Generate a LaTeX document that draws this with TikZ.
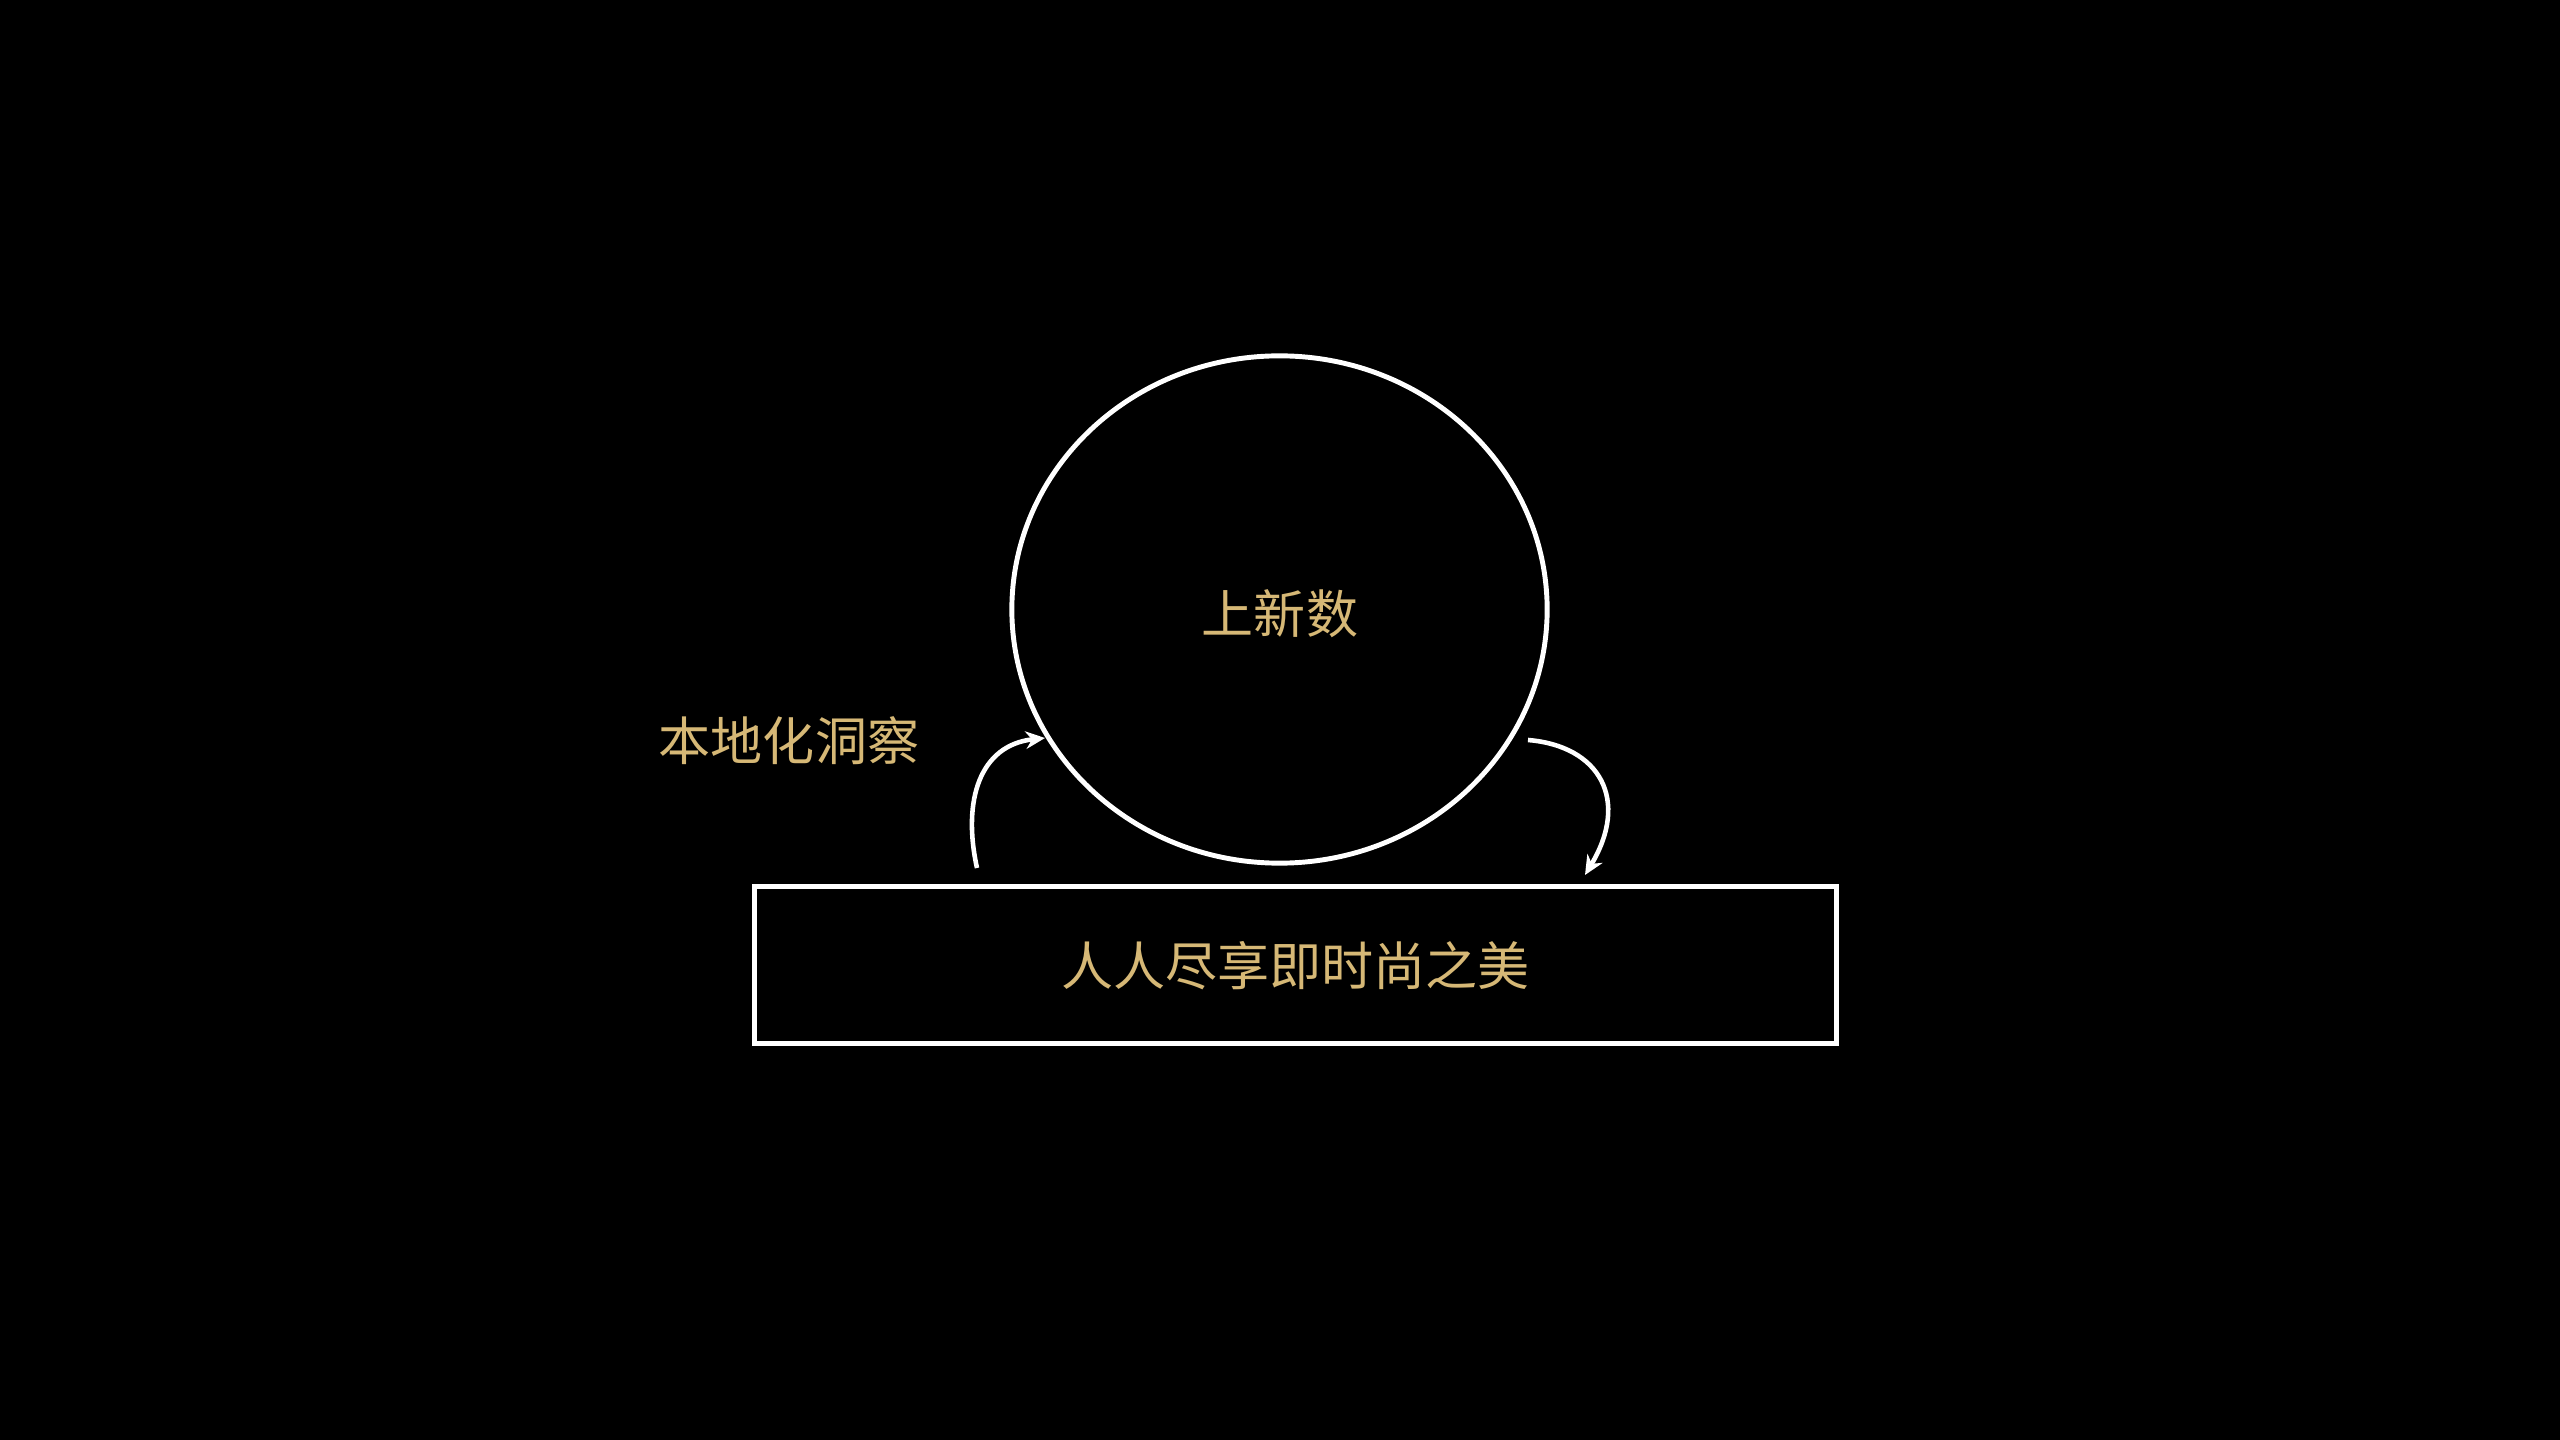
\documentclass[tikz,border=0pt]{standalone}
\usepackage{fontspec}
\newfontfamily\cjk{Noto Sans CJK SC}
\usetikzlibrary{shapes.geometric,arrows.meta}
\definecolor{gold}{RGB}{214,184,118}
\tikzset{
  label text/.style={text=gold, font=\cjk\fontsize{14.8pt}{16pt}\selectfont, inner sep=0pt},
  bubble/.style={ellipse, draw=white, line width=1.4pt, minimum width=5.35cm, minimum height=5.07cm, inner sep=0pt},
  basebox/.style={rectangle, draw=white, line width=1.4pt, minimum width=10.81cm, minimum height=1.56cm, inner sep=0pt},
  loop arrow/.style={draw=white, line width=1.3pt, -{Stealth[length=5.5pt,width=5pt]}}
}
\begin{document}
\begin{tikzpicture}[x=0.01cm, y=-0.01cm]
  \fill[black] (0,0) rectangle (2560,1440);
  \useasboundingbox (0,0) rectangle (2560,1440);
  \node[bubble] (circ) at (1279.5,609.5) {};
  \node[label text] (circtext) at (1280,614) {上新数};
  \node[basebox] (box) at (1295.5,965) {};
  \node[label text] (boxtext) at (1295.5,966) {人人尽享即时尚之美};
  \node[label text] (insight) at (789,741) {本地化洞察};
  \coordinate (lstart) at (977,868);
  \coordinate (lend) at (1045,738);
  \coordinate (rstart) at (1528,740);
  \coordinate (rend) at (1585,875);
  \draw[loop arrow] (lstart) .. controls (962,800) and (980,745) .. (lend);
  \draw[loop arrow] (rstart) .. controls (1600,746) and (1630,800) .. (rend);
\end{tikzpicture}
\end{document}
